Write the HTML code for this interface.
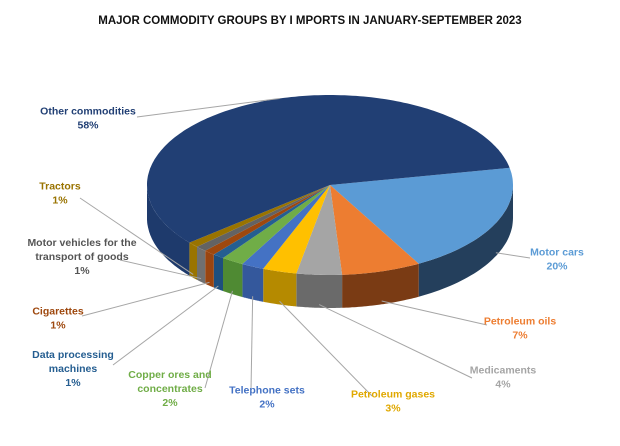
<!DOCTYPE html>
<html><head><meta charset="utf-8"><style>
body{margin:0;background:#fff;}
svg{display:block;font-family:"Liberation Sans",sans-serif;}
.l{font-size:10.5px;font-weight:bold;}
</style></head><body>
<svg id="c" width="620" height="446" viewBox="0 0 620 446">
<text x="310" y="24" text-anchor="middle" font-size="11.5" font-weight="bold" fill="#111">MAJOR  COMMODITY  GROUPS  BY I MPORTS  IN  JANUARY-SEPTEMBER  2023</text>
<g id="pie"></g><g id="lab"></g>
</svg>
<script>
const categories=["Motor cars","Petroleum oils","Medicaments","Petroleum gases","Telephone sets","Copper ores and concentrates","Data processing machines","Cigarettes","Motor vehicles for the transport of goods","Tractors","Other commodities"];
const values=[20,7,4,3,2,2,1,1,1,1,58];
const labelText=[["Motor cars","20%"],["Petroleum oils","7%"],["Medicaments","4%"],["Petroleum gases","3%"],["Telephone sets","2%"],["Copper  ores and","concentrates","2%"],["Data processing","machines","1%"],["Cigarettes","1%"],["Motor  vehicles for the","transport  of goods","1%"],["Tractors","1%"],["Other commodities","58%"]];
const topC=["#5b9bd5","#ed7d31","#a5a5a5","#ffc000","#4472c4","#70ad47","#255e91","#9e480e","#636363","#997300","#213f74"];
const sideC=["#243f5c","#7a3b14","#6a6a6a","#b58a00","#34589c","#4f8a33","#1e4f7e","#9a4510","#707070","#9a7400","#1e3a6c"];
const labC=["#5b9bd5","#ed7d31","#a5a5a5","#e0a800","#4472c4","#70ad47","#255e91","#9e480e","#555","#997300","#213f74"];
const labPos=[[557,258],[520,327],[503,376],[393,400],[267,396],[170,387],[73,367],[58,317],[82,255],[60,192],[88,117]];
const lineEnd=[[530,258],[487,325],[472,378],[372,396],[251,390],[205,388],[113,365],[82,316],[120,260],[80,198],[137,117]];
const cx=330,cy=185,rx=183,ry=90,D=33,start=-11*Math.PI/180;
const NS="http://www.w3.org/2000/svg";
const pie=document.getElementById('pie'),lab=document.getElementById('lab');
const total=values.reduce((a,b)=>a+b,0);
const P=(t,dy=0)=>[cx+rx*Math.cos(t),cy+ry*Math.sin(t)+dy];
function arc(a,b,dy,n){let s=[];for(let i=0;i<=n;i++){const p=P(a+(b-a)*i/n,dy);s.push(p[0].toFixed(1)+","+p[1].toFixed(1));}return s;}
let angles=[];let a=start;
values.forEach(v=>{const b=a+v/total*2*Math.PI;angles.push([a,b]);a=b;});
angles.forEach(([a0,b0],i)=>{
  for(let k=-1;k<=1;k++){
    const lo=Math.max(a0,k*2*Math.PI),hi=Math.min(b0,k*2*Math.PI+Math.PI);
    if(hi>lo){
      const top=arc(lo,hi,0,40),bot=arc(hi,lo,D,40);
      const p=document.createElementNS(NS,'polygon');
      p.setAttribute('points',top.concat(bot).join(' '));
      p.setAttribute('fill',sideC[i]);
      
      
      pie.appendChild(p);
    }
  }
});
angles.forEach(([a0,b0],i)=>{
  const pts=[cx+","+cy].concat(arc(a0,b0,0,Math.max(4,Math.ceil(values[i]*3))));
  const p=document.createElementNS(NS,'polygon');
  p.setAttribute('points',pts.join(' '));
  p.setAttribute('fill',topC[i]);
  
  
  pie.appendChild(p);
  const m=(a0+b0)/2;
  let e=P(m,Math.sin(m)>0.2?D*0.9:0);
  if(i===values.length-1){e=P(-1.85,0);}
  const ln=document.createElementNS(NS,'polyline');
  ln.setAttribute('points',e[0]+","+e[1]+" "+lineEnd[i][0]+","+lineEnd[i][1]);
  ln.setAttribute('stroke','#a6a6a6');ln.setAttribute('fill','none');ln.setAttribute('stroke-width','1');
  
  
  lab.appendChild(ln);
  const t=document.createElementNS(NS,'text');
  t.setAttribute('class','l');t.setAttribute('fill',labC[i]);t.setAttribute('text-anchor','middle');
  
  
  const n=labelText[i].length;
  labelText[i].forEach((s,j)=>{const ts=document.createElementNS(NS,'tspan');ts.setAttribute('x',labPos[i][0]);ts.setAttribute('y',labPos[i][1]-(n-1)*6.5+j*14+4);ts.textContent=s;t.appendChild(ts);});
  lab.appendChild(t);
});
</script>
</body></html>
